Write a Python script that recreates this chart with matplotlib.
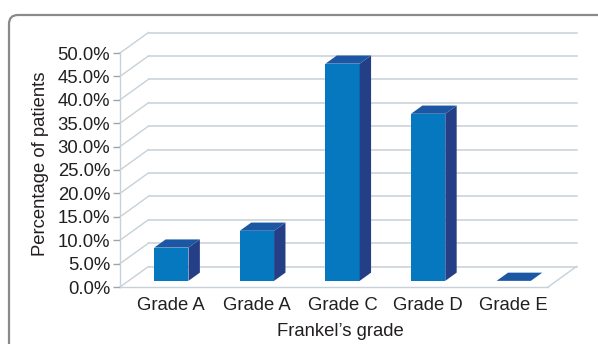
import matplotlib
matplotlib.use('Agg')
import matplotlib.pyplot as plt
from matplotlib.patches import Polygon, FancyBboxPatch

# ---- data ----
categories = ['Grade A', 'Grade A', 'Grade C', 'Grade D', 'Grade E']
percent = [7.1, 10.7, 46.4, 35.7, 0.0]
yticks = [0, 5, 10, 15, 20, 25, 30, 35, 40, 45, 50]
ytick_labels = [f'{v:.1f}%' for v in yticks]
xlabel = 'Frankel\u2019s grade'
ylabel = 'Percentage of patients'

plt.rcParams['font.family'] = ['Liberation Sans', 'DejaVu Sans']
TXT = '#231f20'
GRID = '#c6d1d9'
FRONT = '#0678c0'
TOP = '#1c57a3'
SIDE = '#243f86'
FS = 13.3

W, H = 598, 344
fig = plt.figure(figsize=(W / 100, H / 100), dpi=100)
ax_l, ax_b, ax_w, ax_h = 120, 57, 428, 234
ax = fig.add_axes([ax_l / W, ax_b / H, ax_w / W, ax_h / H])
n = len(categories)
ymax = 50
ax.set_xlim(0, n)
ax.set_ylim(0, ymax)
ax.patch.set_alpha(0)

# depth offsets (pixels -> data units)
DXP, DYP = 28.5, 20.5
ddx = DXP / ax_w * n
ddy = DYP / ax_h * ymax

# walls: back gridlines and diagonals on left wall
for v in yticks:
    ax.plot([ddx, n + ddx], [v + ddy, v + ddy], color=GRID, lw=1.1, clip_on=False, zorder=1)
    ax.plot([0, ddx], [v, v + ddy], color=GRID, lw=1.0, clip_on=False, zorder=1)
# floor edges
ax.plot([0, n], [0, 0], color=GRID, lw=1.0, clip_on=False, zorder=1)
ax.plot([n, n + ddx], [0, ddy], color=GRID, lw=1.0, clip_on=False, zorder=1)

# bars
inset = 0.3
bdepth = 0.4
bw = 0.4
fx, fy = ddx * inset, ddy * inset
bx, by = ddx * bdepth, ddy * bdepth
for i, v in enumerate(percent):
    x0 = i + 0.5 - bw / 2 + fx
    x1 = i + 0.5 + bw / 2 + fx
    y0 = fy
    y1 = fy + v
    if v > 0:
        front = Polygon([(x0, y0), (x1, y0), (x1, y1), (x0, y1)], closed=True,
                        facecolor=FRONT, edgecolor='none', clip_on=False, zorder=3)
        side = Polygon([(x1, y0), (x1 + bx, y0 + by), (x1 + bx, y1 + by), (x1, y1)], closed=True,
                       facecolor=SIDE, edgecolor='none', clip_on=False, zorder=3)
        ax.add_patch(front)
        ax.add_patch(side)
    top = Polygon([(x0, y1), (x1, y1), (x1 + bx, y1 + by), (x0 + bx, y1 + by)], closed=True,
                  facecolor=TOP, edgecolor='none', clip_on=False, zorder=3)
    ax.add_patch(top)

# axes styling
for s in ['top', 'right', 'bottom']:
    ax.spines[s].set_visible(False)
ax.spines['left'].set_color(GRID)
ax.spines['left'].set_linewidth(1.0)
ax.set_yticks(yticks)
ax.set_yticklabels(ytick_labels)
ax.tick_params(axis='y', length=5, width=1, color='#9aa5ad', pad=2,
               labelsize=FS, labelcolor=TXT)
ax.set_xticks([i + 0.5 + fx for i in range(n)])
ax.set_xticklabels(categories)
ax.tick_params(axis='x', length=0, pad=7, labelsize=FS, labelcolor=TXT)

fig.text(41 / W, 1 - 164 / H, ylabel, rotation=90, ha='center', va='center',
         fontsize=FS, color=TXT)
fig.text(340 / W, 1 - 331 / H, xlabel, ha='center', va='center',
         fontsize=FS, color=TXT)

# chart border (rounded, cut off at right and bottom)
border = FancyBboxPatch((0.09, -0.5), 7.0, 3.44 - 0.15 + 0.5,
                        boxstyle='round,pad=0,rounding_size=0.09',
                        transform=fig.dpi_scale_trans, facecolor='none',
                        edgecolor='#8a8a8a', linewidth=1.6, clip_on=False)
fig.patches.append(border)

fig.savefig('out.png', dpi=100)
